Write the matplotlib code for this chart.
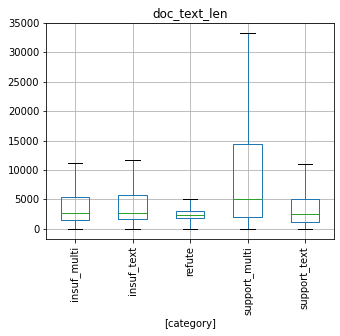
import matplotlib
matplotlib.use("Agg")
import matplotlib.pyplot as plt

categories = ["insuf_multi", "insuf_text", "refute", "support_multi", "support_text"]
whislo = [0, 0, 0, 0, 0]
q1 = [1520, 1700, 1860, 2030, 1190]
med = [2710, 2710, 2370, 5080, 2540]
q3 = [5360, 5760, 3050, 14400, 5020]
whishi = [11190, 11700, 5080, 33250, 11020]

stats = [dict(label=c, whislo=a, q1=b, med=m, q3=d, whishi=e, fliers=[])
         for c, a, b, m, d, e in zip(categories, whislo, q1, med, q3, whishi)]

fig = plt.figure(figsize=(340 / 72, 336 / 72), dpi=72)
ax = fig.add_axes([0.136, 0.289, 0.846, 0.643])
ax.bxp(stats, widths=0.5, showfliers=False,
       boxprops=dict(color="C0"), whiskerprops=dict(color="C0"),
       medianprops=dict(color="C2"), capprops=dict(color="k"))
ax.set_ylim(-1700, 35000)
ax.set_yticks(range(0, 35001, 5000))
ax.grid(True, color="#b0b0b0", linewidth=0.8)
ax.set_axisbelow(True)
ax.set_title("doc_text_len")
ax.set_xlabel("[category]")
plt.setp(ax.get_xticklabels(), rotation=90)
fig.savefig("out.png", dpi=72)
